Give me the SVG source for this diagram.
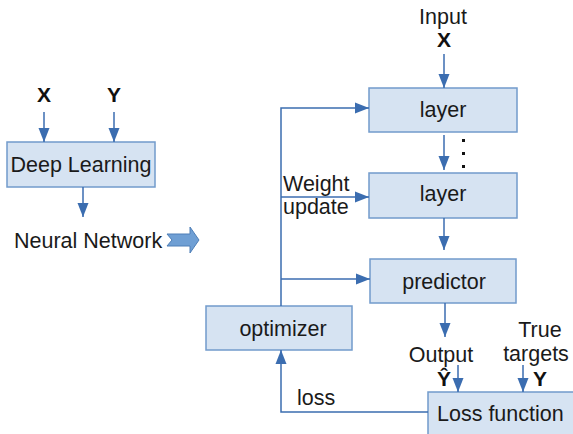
<svg xmlns="http://www.w3.org/2000/svg" width="573" height="434" viewBox="0 0 573 434">
<defs>
<marker id="ah" markerWidth="14" markerHeight="12" refX="14" refY="6" orient="auto" markerUnits="userSpaceOnUse" viewBox="0 0 14 12">
<path d="M0,0.5 L14,6 L0,11.5 Z" fill="#3b6db0"/>
</marker>
<style>
.box{fill:#d6e3f2;stroke:#729bcb;stroke-width:1.5}
.t{font-family:"Liberation Sans",Arial,sans-serif;font-size:21.5px;fill:#1a1a1a}
.b{font-family:"Liberation Sans",Arial,sans-serif;font-size:21px;font-weight:bold;fill:#111}
.c{stroke:#3b6db0;stroke-width:1.5;fill:none}
</style>
</defs>
<rect width="573" height="434" fill="#fff"/>
<g id="deep-learning">
<rect class="box" x="7" y="142" width="148" height="45"/>
<text class="t" x="81" y="172" text-anchor="middle">Deep Learning</text>
</g>
<g id="dl-inputs">
<text class="b" x="44" y="102" text-anchor="middle">X</text>
<text class="b" x="114" y="102" text-anchor="middle">Y</text>
</g>
<g id="neural-network">
<text class="t" x="14" y="248">Neural Network</text>
<path d="M167,234 L190,234 L190,227 L199,240 L190,253 L190,246 L167,246 L172,240 Z" fill="#6f9fd4" stroke="#4f7fb7" stroke-width="1"/>
</g>
<g id="input">
<text class="t" x="443" y="24" text-anchor="middle">Input</text>
<text class="b" x="444" y="47" text-anchor="middle">X</text>
</g>
<g id="layer1">
<rect class="box" x="369" y="88" width="148" height="44"/>
<text class="t" x="443" y="117" text-anchor="middle">layer</text>
</g>
<g id="dots">
<rect x="462" y="139" width="3" height="3" fill="#111"/>
<rect x="462" y="152" width="3" height="3" fill="#111"/>
<rect x="462" y="165" width="3" height="3" fill="#111"/>
</g>
<g id="layer2">
<rect class="box" x="369" y="173" width="148" height="45"/>
<text class="t" x="443" y="201" text-anchor="middle">layer</text>
</g>
<g id="predictor">
<rect class="box" x="370" y="259" width="146" height="44"/>
<text class="t" x="444" y="289" text-anchor="middle">predictor</text>
</g>
<g id="optimizer">
<rect class="box" x="206" y="306" width="146" height="44"/>
<text class="t" x="283" y="336" text-anchor="middle">optimizer</text>
</g>
<g id="loss-function">
<rect class="box" x="428" y="392" width="150" height="50"/>
<text class="t" x="437" y="421">Loss function</text>
</g>
<g id="labels">
<text class="t" x="283" y="191">Weight</text>
<text class="t" x="283" y="214">update</text>
<text class="t" x="441" y="362" text-anchor="middle">Output</text>
<text class="b" x="444" y="386" text-anchor="middle">Ŷ</text>
<text class="t" x="540" y="337" text-anchor="middle">True</text>
<text class="t" x="536" y="361" text-anchor="middle">targets</text>
<text class="b" x="540" y="386" text-anchor="middle">Y</text>
<text class="t" x="297" y="405">loss</text>
</g>
<g id="connectors">
<line class="c" x1="44" y1="112" x2="44" y2="142" marker-end="url(#ah)"/>
<line class="c" x1="114" y1="112" x2="114" y2="142" marker-end="url(#ah)"/>
<line class="c" x1="83" y1="187" x2="83" y2="217" marker-end="url(#ah)"/>
<line class="c" x1="444" y1="54" x2="444" y2="88" marker-end="url(#ah)"/>
<line class="c" x1="444" y1="135" x2="444" y2="170" marker-end="url(#ah)"/>
<line class="c" x1="444" y1="218" x2="444" y2="250" marker-end="url(#ah)"/>
<line class="c" x1="445" y1="303" x2="445" y2="337" marker-end="url(#ah)"/>
<line class="c" x1="458" y1="365" x2="458" y2="392" marker-end="url(#ah)"/>
<line class="c" x1="523" y1="365" x2="523" y2="392" marker-end="url(#ah)"/>
<polyline class="c" points="281,306 281,108 369,108" marker-end="url(#ah)"/>
<line class="c" x1="281" y1="197" x2="369" y2="197" marker-end="url(#ah)"/>
<line class="c" x1="281" y1="279" x2="370" y2="279" marker-end="url(#ah)"/>
<polyline class="c" points="428,412 281,412 281,350" marker-end="url(#ah)"/>
</g>
</svg>
